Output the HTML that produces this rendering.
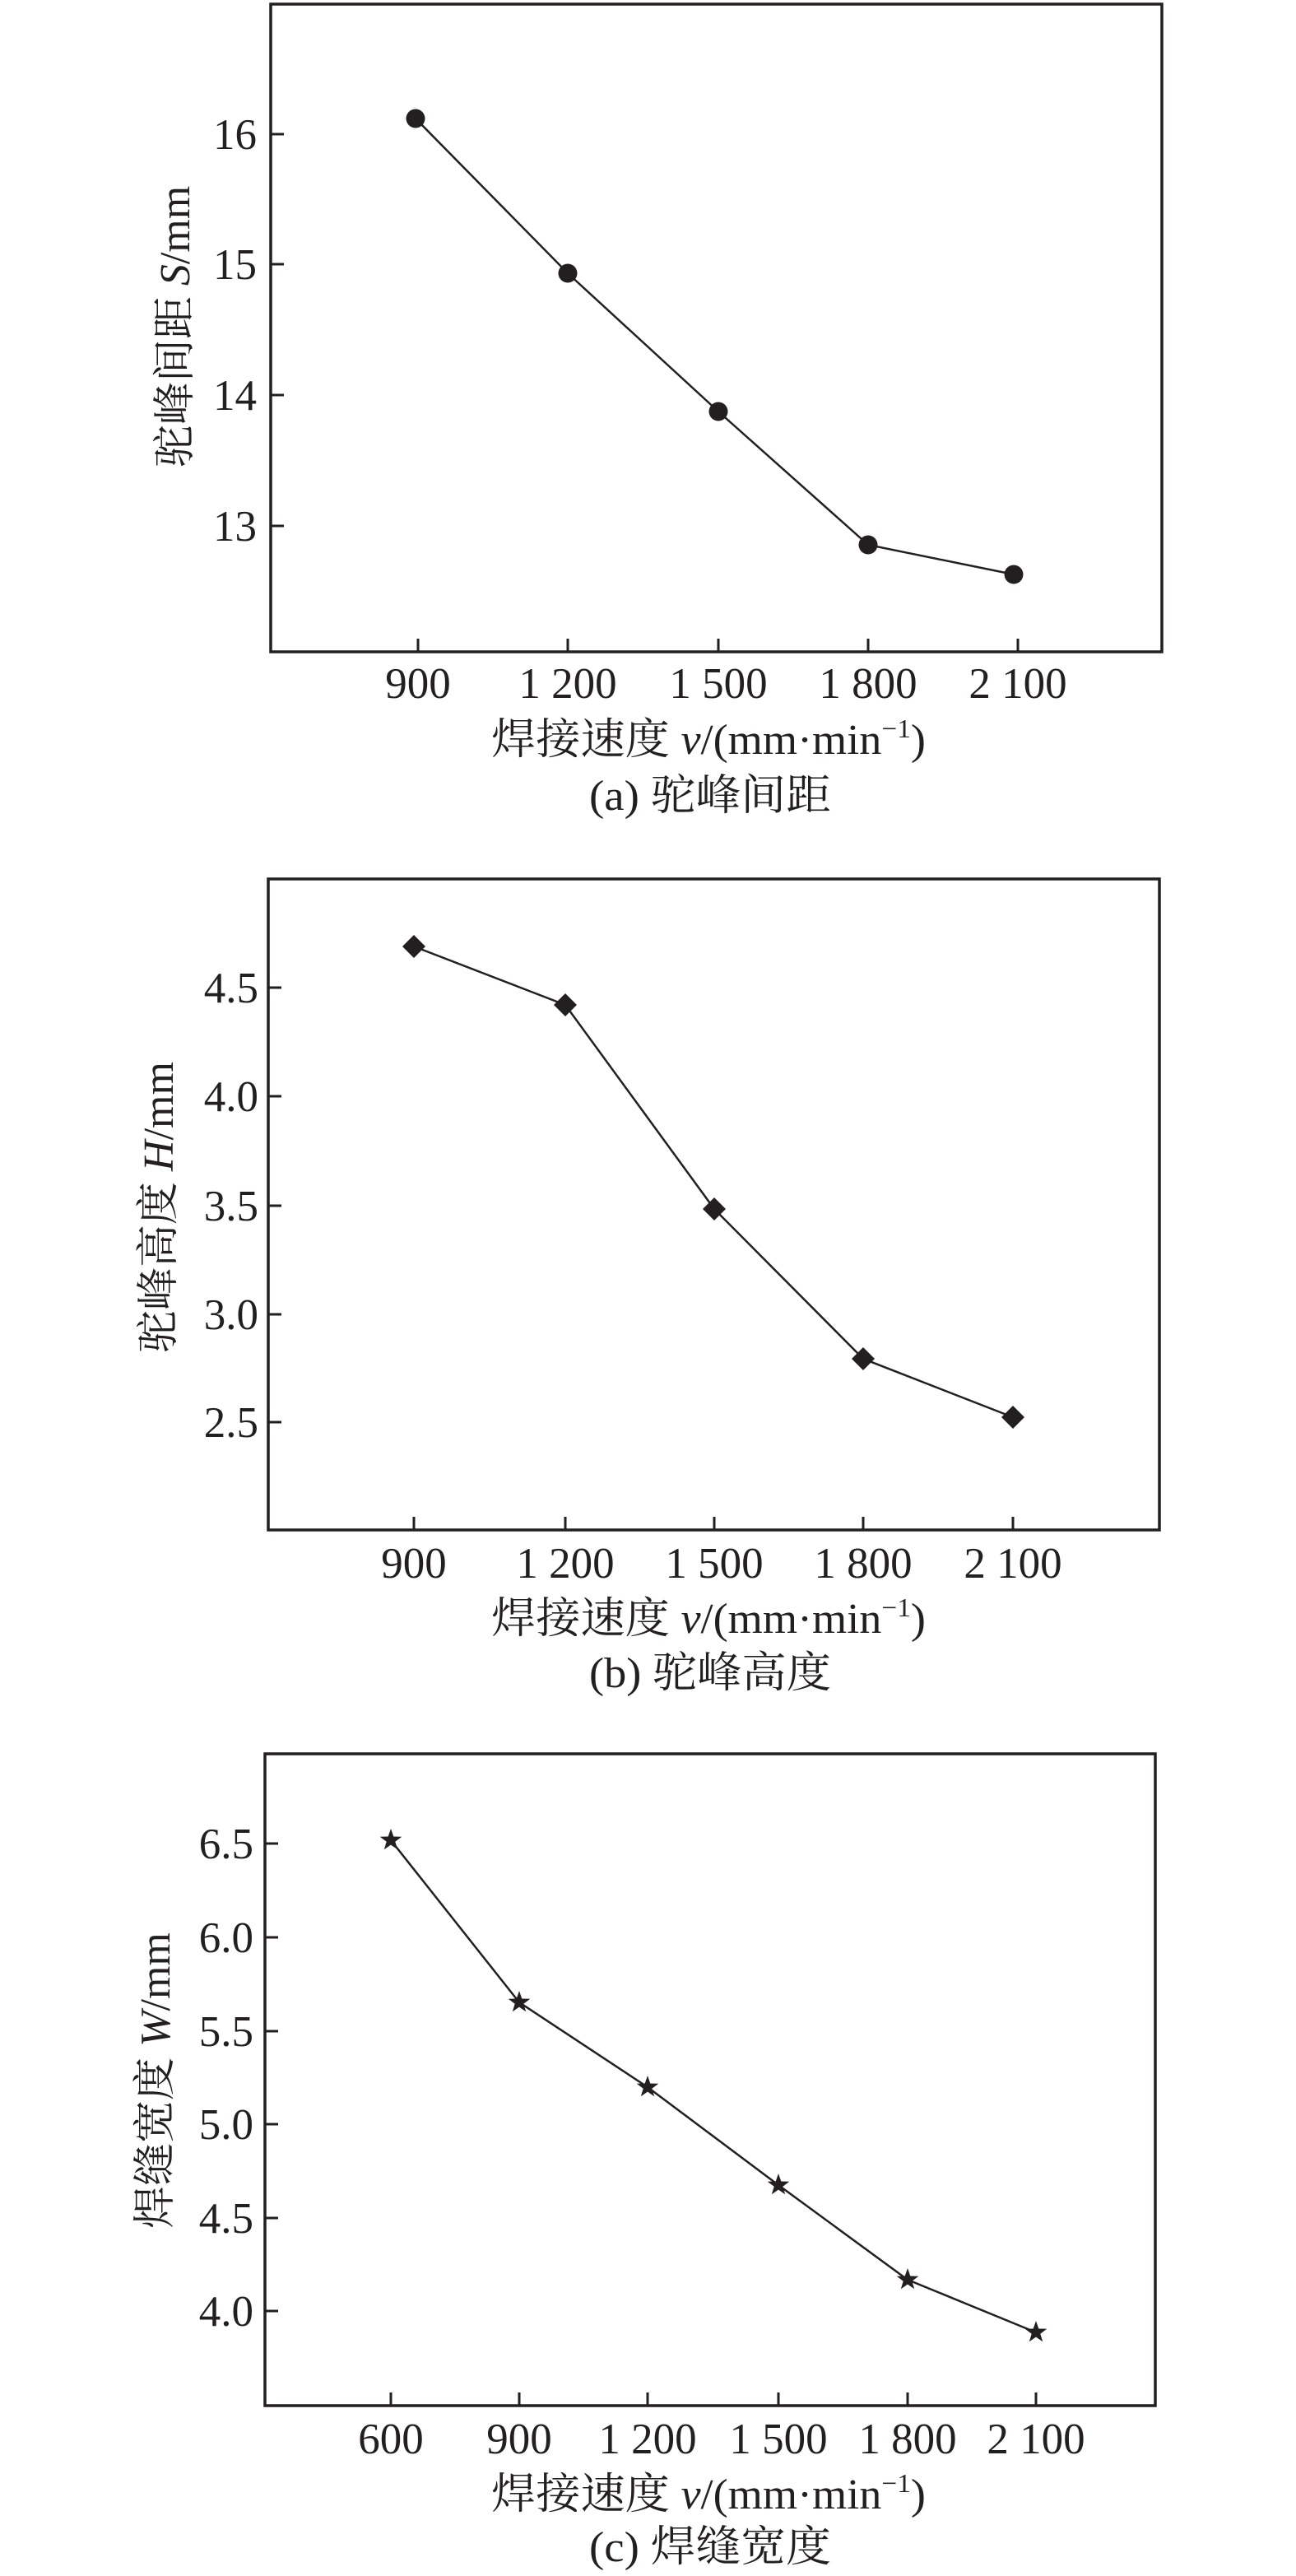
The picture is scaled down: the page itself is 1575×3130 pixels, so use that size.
<!DOCTYPE html>
<html><head><meta charset="utf-8"><style>
html,body{margin:0;padding:0;background:#fff}
svg{display:block}
text{font-family:"Liberation Serif","Times New Roman","Noto Serif CJK SC",serif;fill:#231f20}
.t{font-size:53px}
.cj{font-size:52px}
</style></head><body>
<svg width="1575" height="3130" viewBox="0 0 1575 3130" xmlns="http://www.w3.org/2000/svg">
<g stroke="#231f20" fill="none">
<!-- Chart a -->
<rect x="329" y="5" width="1083" height="787" stroke-width="3.5"/>
<path d="M508 792v-16M690 792v-16M873 792v-16M1055 792v-16M1237 792v-16M329 163h16M329 321h16M329 480h16M329 639h16" stroke-width="3"/>
<polyline points="505,144 690,332 873,500 1055,662 1232,698" stroke-width="2.5"/>
<!-- Chart b -->
<rect x="326" y="1068" width="1083" height="791" stroke-width="3.5"/>
<path d="M503 1859v-16M687 1859v-16M868 1859v-16M1049 1859v-16M1231 1859v-16M326 1200h16M326 1332h16M326 1465h16M326 1597h16M326 1728h16" stroke-width="3"/>
<polyline points="503,1150 687,1221 868,1469 1049,1651 1231,1722" stroke-width="2.5"/>
<!-- Chart c -->
<rect x="322" y="2131" width="1082" height="792" stroke-width="3.5"/>
<path d="M475 2923v-16M631 2923v-16M787 2923v-16M946 2923v-16M1103 2923v-16M1259 2923v-16M322 2240h16M322 2354h16M322 2468h16M322 2581h16M322 2695h16M322 2808h16" stroke-width="3"/>
<polyline points="475,2236 631,2433 787,2536 946,2655 1103,2770 1259,2834" stroke-width="2.5"/>
</g>
<g fill="#231f20">
<circle cx="505" cy="144" r="11.5"/><circle cx="690" cy="332" r="11.5"/><circle cx="873" cy="500" r="11.5"/><circle cx="1055" cy="662" r="11.5"/><circle cx="1232" cy="698" r="11.5"/>
<path d="M503 1136l14 14-14 14-14-14z"/><path d="M687 1207l14 14-14 14-14-14z"/><path d="M868 1455l14 14-14 14-14-14z"/><path d="M1049 1637l14 14-14 14-14-14z"/><path d="M1231 1708l14 14-14 14-14-14z"/>
<defs><path id="st" d="M0,-14 L3.3,-4.5 13.3,-4.3 5.3,1.7 8.2,11.3 0,5.6 -8.2,11.3 -5.3,1.7 -13.3,-4.3 -3.3,-4.5Z"/></defs>
<use href="#st" x="475" y="2236"/><use href="#st" x="631" y="2433"/><use href="#st" x="787" y="2536"/><use href="#st" x="946" y="2655"/><use href="#st" x="1103" y="2770"/><use href="#st" x="1259" y="2834"/>
</g>
<!-- a labels -->
<g class="t" text-anchor="end">
<text x="312" y="181">16</text><text x="312" y="339">15</text><text x="312" y="498">14</text><text x="312" y="657">13</text>
</g>
<g class="t" text-anchor="middle">
<text x="508" y="848">900</text><text x="690" y="848">1 200</text><text x="873" y="848">1 500</text><text x="1055" y="848">1 800</text><text x="1237" y="848">2 100</text>
</g>
<text class="cj" x="597" y="916" textLength="528" lengthAdjust="spacingAndGlyphs">焊接速度 <tspan font-style="italic">v</tspan>/(mm·min<tspan font-size="32" dy="-20">−1</tspan><tspan dy="20">)</tspan></text>
<text class="cj" x="716" y="984" textLength="294" lengthAdjust="spacingAndGlyphs">(a) 驼峰间距</text>
<text class="cj" transform="translate(230,397) rotate(-90)" text-anchor="middle">驼峰间距 <tspan font-style="italic">S</tspan>/mm</text>
<!-- b labels -->
<g class="t" text-anchor="end">
<text x="314" y="1218">4.5</text><text x="314" y="1350">4.0</text><text x="314" y="1483">3.5</text><text x="314" y="1615">3.0</text><text x="314" y="1746">2.5</text>
</g>
<g class="t" text-anchor="middle">
<text x="503" y="1917">900</text><text x="687" y="1917">1 200</text><text x="868" y="1917">1 500</text><text x="1049" y="1917">1 800</text><text x="1231" y="1917">2 100</text>
</g>
<text class="cj" x="597" y="1984" textLength="528" lengthAdjust="spacingAndGlyphs">焊接速度 <tspan font-style="italic">v</tspan>/(mm·min<tspan font-size="32" dy="-20">−1</tspan><tspan dy="20">)</tspan></text>
<text class="cj" x="716" y="2050" textLength="294" lengthAdjust="spacingAndGlyphs">(b) 驼峰高度</text>
<text class="cj" transform="translate(210,1467) rotate(-90)" text-anchor="middle">驼峰高度 <tspan font-style="italic">H</tspan>/mm</text>
<!-- c labels -->
<g class="t" text-anchor="end">
<text x="308" y="2258">6.5</text><text x="308" y="2372">6.0</text><text x="308" y="2486">5.5</text><text x="308" y="2599">5.0</text><text x="308" y="2713">4.5</text><text x="308" y="2826">4.0</text>
</g>
<g class="t" text-anchor="middle">
<text x="475" y="2981">600</text><text x="631" y="2981">900</text><text x="787" y="2981">1 200</text><text x="946" y="2981">1 500</text><text x="1103" y="2981">1 800</text><text x="1259" y="2981">2 100</text>
</g>
<text class="cj" x="597" y="3048" textLength="528" lengthAdjust="spacingAndGlyphs">焊接速度 <tspan font-style="italic">v</tspan>/(mm·min<tspan font-size="32" dy="-20">−1</tspan><tspan dy="20">)</tspan></text>
<text class="cj" x="716" y="3112" textLength="294" lengthAdjust="spacingAndGlyphs">(c) 焊缝宽度</text>
<text class="cj" transform="translate(206,2528) rotate(-90)" text-anchor="middle">焊缝宽度 <tspan font-style="italic">W</tspan>/mm</text>
</svg>
</body></html>
